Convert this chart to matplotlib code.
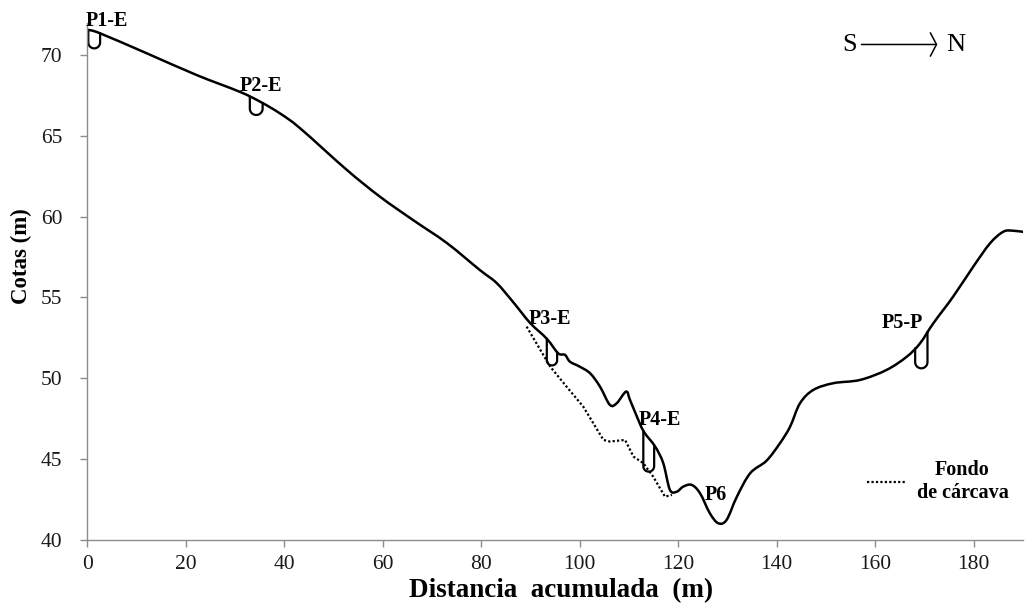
import numpy as np
import matplotlib
matplotlib.use("Agg")
import matplotlib.pyplot as plt
from matplotlib.path import Path
from matplotlib.patches import PathPatch
from matplotlib.lines import Line2D

plt.rcParams['font.family'] = ['Liberation Serif', 'DejaVu Serif']

# Perfil del terreno (distancia acumulada, cota)
dist = [0.2, 2.6, 12.1, 22.2, 30.9, 35.1, 39.1, 43.2, 52.7, 59.4, 66.1, 73.0,
        79.7, 83.1, 86.4, 89.9, 93.3, 95.6, 97.0, 98.0, 100.0, 102.1, 104.1,
        106.1, 107.5, 109.4, 110.2, 111.6, 113.0, 115.3, 116.95, 118.3, 119.7,
        121.0, 122.7, 124.4, 126.4, 128.1, 129.8, 131.9, 134.6, 137.9, 140.65,
        142.7, 144.7, 147.4, 151.5, 156.9, 162.3, 166.4, 169.1, 171.8, 175.8,
        179.9, 183.3, 186.0, 188.0, 190.4]
cota = [71.55, 71.34, 70.1, 68.76, 67.73, 67.11, 66.39, 65.47, 62.89, 61.24,
        59.80, 58.37, 56.70, 55.90, 54.74, 53.43, 52.45, 51.55, 51.45, 51.03,
        50.72, 50.31, 49.49, 48.36, 48.46, 49.18, 48.66, 47.63, 46.70, 45.78,
        44.75, 43.10, 42.99, 43.30, 43.41, 42.90, 41.66, 41.04, 41.24, 42.68,
        44.13, 44.90, 45.99, 47.01, 48.45, 49.28, 49.70, 49.90, 50.52, 51.34,
        52.17, 53.41, 55.05, 56.91, 58.35, 59.07, 59.13, 59.04]

# Fondo de carcava
dist_fondo = [89.2, 94.0, 97.3, 100.7, 104.8, 106.1, 109.2, 110.9, 112.9,
              114.9, 117.3, 118.7]
cota_fondo = [53.2, 50.72, 49.49, 48.25, 46.19, 46.09, 46.19, 45.16, 44.75,
              43.92, 42.68, 42.79]

# Pozos: borde izquierdo, borde derecho, cota del fondo
pozo_xi = [0.2, 33.0, 93.3, 112.9, 168.1]
pozo_xd = [2.6, 35.6, 95.4, 115.1, 170.6]
pozo_fondo = [70.41, 66.29, 50.80, 44.23, 50.62]

# Etiquetas de los puntos
etiquetas = ['P1-E', 'P2-E', 'P3-E', 'P4-E', 'P5-P', 'P6']
etq_x = [3.9, 35.3, 94.0, 116.3, 165.6, 127.7]
etq_y = [72.1, 68.1, 53.65, 47.4, 53.45, 42.8]

xmin, xmax = 0, 190
ymin, ymax = 40, 72


def curva_suave(x, y, k=1 / 6):
    # linea suavizada tipo excel (catmull-rom -> bezier)
    p = np.column_stack([x, y]).astype(float)
    ext = np.vstack([p[0], p, p[-1]])
    verts = [p[0]]
    codes = [Path.MOVETO]
    for i in range(len(p) - 1):
        p0, p1, p2, p3 = ext[i], ext[i + 1], ext[i + 2], ext[i + 3]
        verts += [p1 + (p2 - p0) * k, p2 - (p3 - p1) * k, p2]
        codes += [Path.CURVE4] * 3
    return Path(verts, codes)


fig = plt.figure(figsize=(10.26, 6.09), dpi=100)
ax = fig.add_axes([0.0851, 0.1133, 0.912, 0.8495])
ax.set_xlim(xmin, xmax)
ax.set_ylim(ymin, ymax)

ax.add_patch(PathPatch(curva_suave(dist, cota), fill=False, lw=1.8,
                       ec='black', capstyle='round', joinstyle='round'))
ax.plot(dist_fondo, cota_fondo, color='black', lw=1.6, ls=(0, (1, 1)))

# pozos dibujados como una U
bb = ax.get_window_extent()
sx = bb.width / (xmax - xmin)
sy = bb.height / (ymax - ymin)
t = np.linspace(np.pi, 2 * np.pi, 30)
for xi, xd, yf in zip(pozo_xi, pozo_xd, pozo_fondo):
    yi = np.interp(xi, dist, cota)
    yd = np.interp(xd, dist, cota)
    rx = (xd - xi) / 2
    ry = rx * sx / sy
    xs = np.concatenate([[xi], (xi + rx) + rx * np.cos(t), [xd]])
    ys = np.concatenate([[yi], (yf + ry) + ry * np.sin(t), [yd]])
    ax.plot(xs, ys, color='black', lw=1.6, solid_capstyle='round')

for nom, x, y in zip(etiquetas, etq_x, etq_y):
    ax.text(x, y, nom, fontsize=14.5, fontweight='bold', ha='center',
            va='center')

# orientacion S -> N
ax.text(154.7, 70.6, 'S', fontsize=19, ha='center', va='center')
ax.text(176.3, 70.6, 'N', fontsize=19, ha='center', va='center')
ax.annotate('', xy=(172.6, 70.65), xytext=(157.2, 70.65),
            arrowprops=dict(arrowstyle='->,head_length=0.22,head_width=0.42',
                            lw=1.1, color='black', mutation_scale=20,
                            shrinkA=0, shrinkB=0))

leg_linea = Line2D([], [], color='black', lw=1.6, ls=(0, (1, 1)))
leg = ax.legend([leg_linea], ['Fondo\nde cárcava'], loc='lower right',
                bbox_to_anchor=(0.993, 0.055), frameon=False,
                borderaxespad=0, handlelength=2.0, handletextpad=0.45,
                prop=dict(size=14.5, weight='bold'))
for txt in leg.get_texts():
    txt.set_multialignment('center')

for s in ['top', 'right']:
    ax.spines[s].set_visible(False)
for s in ['left', 'bottom']:
    ax.spines[s].set_color('#8c8c8c')
    ax.spines[s].set_linewidth(1)

ax.set_xticks(np.arange(0, 181, 20))
ax.set_yticks(np.arange(40, 71, 5))
ax.tick_params(direction='out', length=5, width=1, color='#8c8c8c',
               labelsize=15.5, labelcolor='#1a1a1a')
ax.tick_params(axis='y', pad=13)
ax.tick_params(axis='x', pad=6)

fig.text(561 / 1026, 1 - 591 / 609, 'Distancia  acumulada  (m)', fontsize=19.5,
         fontweight='bold', ha='center', va='center')
fig.text(21 / 1026, 1 - 256 / 609, 'Cotas (m)', fontsize=16.5,
         fontweight='bold', ha='center', va='center', rotation=90)

fig.savefig('out.png', dpi=100)
